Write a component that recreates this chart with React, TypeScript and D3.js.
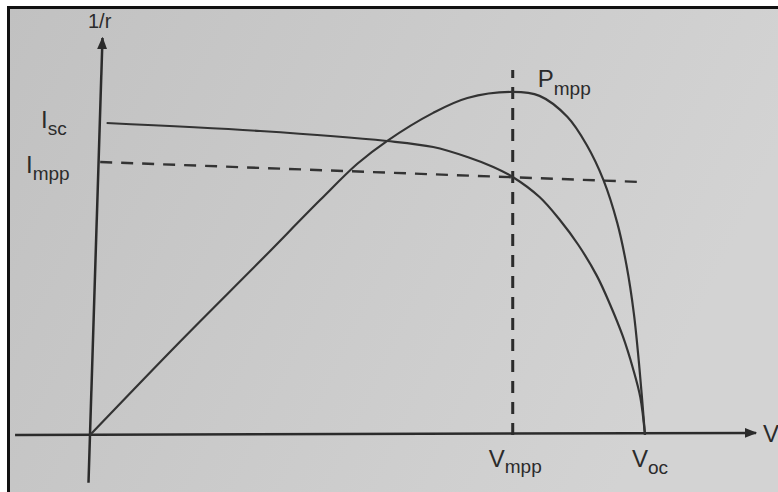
import * as d3 from 'd3';
import { useEffect, useRef } from 'react';

// I-V curve (volts, amps)
const ivVolts = [0.018, 0.184, 0.321, 0.371, 0.408, 0.436, 0.457, 0.486, 0.508, 0.528, 0.548, 0.562, 0.576, 0.587, 0.595, 0.6];
const ivAmps = [3.0, 2.923, 2.827, 2.769, 2.673, 2.577, 2.481, 2.288, 2.067, 1.827, 1.53, 1.26, 0.95, 0.64, 0.36, 0];

// P-V curve (volts, watts)
const pvVolts = [0, 0.097, 0.184, 0.249, 0.289, 0.321, 0.371, 0.408, 0.457, 0.486, 0.516, 0.537, 0.555, 0.57, 0.58, 0.588, 0.594, 0.6];
const pvWatts = [0, 0.307, 0.574, 0.776, 0.895, 0.97, 1.063, 1.112, 1.132, 1.119, 1.05, 0.957, 0.842, 0.7, 0.56, 0.4, 0.22, 0];

// key points
const Isc = 3.0;
const Voc = 0.6;
const Vmpp = 0.457;
const Pmpp = 1.132;

// dashed guide for Impp (slightly skewed in the photo)
const imppGuideVolts = [0.011, 0.595];
const imppGuideAmps = [2.625, 2.433];
const vmppGuideTop = 3.51;

export default function App() {
  const ref = useRef<SVGSVGElement>(null);
  const width = 778;
  const height = 492;

  useEffect(() => {
    const svg = d3.select(ref.current);
    svg.selectAll('*').remove();

    const x = d3.scaleLinear().domain([0, 0.72]).range([90, 756]);
    const yI = d3.scaleLinear().domain([0, 3.8]).range([435, 39.8]);
    const yP = d3.scaleLinear().domain([0, 1.31]).range([435, 38]);

    const ink = '#2b2b2b';
    const font = "'Liberation Sans', Arial, sans-serif";

    // paper background
    const defs = svg.append('defs');
    const grad = defs.append('linearGradient').attr('id', 'paper')
      .attr('x1', 0).attr('y1', 0).attr('x2', 1).attr('y2', 0.3);
    grad.append('stop').attr('offset', '0%').attr('stop-color', '#c1c1c1');
    grad.append('stop').attr('offset', '55%').attr('stop-color', '#cbcbcb');
    grad.append('stop').attr('offset', '100%').attr('stop-color', '#d3d3d3');

    defs.append('marker').attr('id', 'arrow')
      .attr('viewBox', '0 0 10 10').attr('refX', 9).attr('refY', 5)
      .attr('markerWidth', 5).attr('markerHeight', 5)
      .attr('markerUnits', 'strokeWidth').attr('orient', 'auto')
      .append('path').attr('d', 'M0,1 L10,5 L0,9 Z').attr('fill', ink);

    svg.append('rect').attr('width', width).attr('height', height).attr('fill', '#fff');
    svg.append('rect').attr('x', 8).attr('y', 8).attr('width', width - 8).attr('height', height - 8)
      .attr('fill', 'url(#paper)');
    // frame of the photo
    svg.append('path').attr('d', `M8.5,${height} V7.5 H${width}`)
      .attr('fill', 'none').attr('stroke', '#111').attr('stroke-width', 3);

    const g = svg.append('g');

    // axes
    g.append('line')
      .attr('x1', x(-0.081)).attr('y1', yI(0))
      .attr('x2', x(0.72)).attr('y2', yI(0.02))
      .attr('stroke', ink).attr('stroke-width', 2.5)
      .attr('marker-end', 'url(#arrow)');
    g.append('line')
      .attr('x1', x(0)).attr('y1', yI(-0.46))
      .attr('x2', x(0)).attr('y2', yI(3.82))
      .attr('transform', `rotate(1.8,${x(0)},${yI(0)})`)
      .attr('stroke', ink).attr('stroke-width', 2.5)
      .attr('marker-end', 'url(#arrow)');

    // dashed guides
    g.append('line')
      .attr('x1', x(imppGuideVolts[0])).attr('y1', yI(imppGuideAmps[0]))
      .attr('x2', x(imppGuideVolts[1])).attr('y2', yI(imppGuideAmps[1]))
      .attr('stroke', '#333').attr('stroke-width', 2.4).attr('stroke-dasharray', '12,9');
    g.append('line')
      .attr('x1', x(Vmpp)).attr('y1', yI(0))
      .attr('x2', x(Vmpp)).attr('y2', yI(vmppGuideTop))
      .attr('stroke', '#2b2b2b').attr('stroke-width', 3).attr('stroke-dasharray', '12,9');

    // I-V curve
    const ivLine = d3.line<number>()
      .x((_, i) => x(ivVolts[i]))
      .y(d => yI(d))
      .curve(d3.curveCatmullRom.alpha(0.5));
    g.append('path').attr('d', ivLine(ivAmps))
      .attr('fill', 'none').attr('stroke', '#333').attr('stroke-width', 2.2);

    // P-V curve
    const pvLine = d3.line<number>()
      .x((_, i) => x(pvVolts[i]))
      .y(d => yP(d))
      .curve(d3.curveCatmullRom.alpha(0.5));
    g.append('path').attr('d', pvLine(pvWatts))
      .attr('fill', 'none').attr('stroke', '#333').attr('stroke-width', 2.2);

    // labels
    const label = (px: number, py: number, main: string, sub: string, dy: number, size = 24) => {
      const t = g.append('text').attr('x', px).attr('y', py)
        .attr('font-family', font).attr('font-size', size).attr('fill', ink);
      t.append('tspan').text(main);
      if (sub) t.append('tspan').attr('font-size', 19).attr('dy', dy).text(sub);
    };

    g.append('text').attr('x', 88).attr('y', 28)
      .attr('font-family', font).attr('font-size', 20).attr('fill', ink).text('1/r');
    label(41, yI(Isc) + 5, 'I', 'sc', 7);
    label(26, yI(imppGuideAmps[0]) + 11, 'I', 'mpp', 7);
    label(x(Vmpp) + 25, yP(Pmpp) - 5, 'P', 'mpp', 8);
    label(x(Vmpp) - 24, yI(0) + 32, 'V', 'mpp', 6);
    label(x(Voc) - 13, yI(0) + 32, 'V', 'oc', 7);
    g.append('text').attr('x', 763).attr('y', yI(0) + 7)
      .attr('font-family', font).attr('font-size', 24).attr('fill', ink).text('V');

    return () => {
      svg.selectAll('*').remove();
    };
  }, []);

  return (
    <svg
      ref={ref}
      width={width}
      height={height}
      style={{ position: 'absolute', left: 0, top: 0, display: 'block' }}
    />
  );
}
